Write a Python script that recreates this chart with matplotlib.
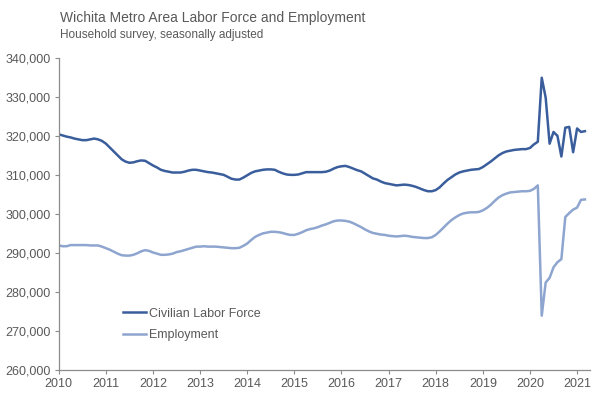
import numpy as np
import matplotlib
matplotlib.use("Agg")
import matplotlib.pyplot as plt
from matplotlib.ticker import FuncFormatter

plt.rcParams['font.family'] = ['Liberation Sans', 'DejaVu Sans']

# monthly values, Jan 2010 - Mar 2021 (thousands)
labor_force = [
    320.4, 320.1, 319.8, 319.6, 319.3, 319.1, 318.9, 318.9, 319.1, 319.3, 319.1, 318.7,  # 2010
    318.0, 317.0, 316.0, 315.0, 314.0, 313.4, 313.1, 313.2, 313.5, 313.7, 313.6, 313.0,  # 2011
    312.4, 311.9, 311.3, 311.0, 310.8, 310.6, 310.6, 310.6, 310.8, 311.1, 311.3, 311.3,  # 2012
    311.1, 310.9, 310.7, 310.6, 310.4, 310.2, 310.0, 309.5, 309.0, 308.8, 308.8, 309.3,  # 2013
    309.9, 310.5, 310.9, 311.1, 311.3, 311.4, 311.4, 311.3, 310.8, 310.4, 310.1, 310.0,  # 2014
    310.0, 310.1, 310.4, 310.7, 310.7, 310.7, 310.7, 310.7, 310.8, 311.1, 311.6, 312.0,  # 2015
    312.2, 312.3, 312.0, 311.6, 311.2, 310.9, 310.3, 309.7, 309.1, 308.8, 308.3, 307.9,  # 2016
    307.7, 307.5, 307.3, 307.4, 307.5, 307.4, 307.2, 306.9, 306.5, 306.1, 305.8, 305.8,  # 2017
    306.1, 306.8, 307.8, 308.7, 309.4, 310.1, 310.6, 310.9, 311.1, 311.3, 311.4, 311.5,  # 2018
    312.0, 312.7, 313.4, 314.2, 315.0, 315.6, 316.0, 316.2, 316.4, 316.5, 316.6, 316.6,  # 2019
    316.9, 317.8, 318.5, 334.9, 329.8, 318.0, 321.0, 320.0, 314.7, 322.1, 322.3, 315.8,  # 2020
    321.9, 321.0, 321.2,  # 2021
]

employment = [
    291.9, 291.7, 291.7, 292.0, 292.0, 292.0, 292.0, 292.0, 291.9, 291.9, 291.9, 291.6,  # 2010
    291.2, 290.8, 290.3, 289.8, 289.4, 289.3, 289.3, 289.5, 289.9, 290.4, 290.7, 290.5,  # 2011
    290.1, 289.8, 289.5, 289.5, 289.6, 289.8, 290.2, 290.4, 290.7, 291.0, 291.3, 291.6,  # 2012
    291.6, 291.7, 291.6, 291.6, 291.6, 291.5, 291.4, 291.3, 291.2, 291.2, 291.3, 291.8,  # 2013
    292.4, 293.3, 294.1, 294.6, 295.0, 295.2, 295.4, 295.4, 295.3, 295.1, 294.8, 294.6,  # 2014
    294.6, 294.9, 295.3, 295.8, 296.1, 296.3, 296.6, 297.0, 297.3, 297.7, 298.1, 298.3,  # 2015
    298.3, 298.2, 298.0, 297.6, 297.1, 296.6, 296.0, 295.5, 295.1, 294.9, 294.7, 294.6,  # 2016
    294.4, 294.3, 294.2, 294.3, 294.4, 294.3, 294.1, 294.0, 293.9, 293.8, 293.8, 294.0,  # 2017
    294.6, 295.5, 296.5, 297.5, 298.4, 299.1, 299.7, 300.1, 300.3, 300.4, 300.4, 300.5,  # 2018
    300.9, 301.5, 302.3, 303.3, 304.2, 304.8, 305.2, 305.5, 305.6, 305.7, 305.8, 305.8,  # 2019
    305.9, 306.4, 307.3, 273.9, 282.4, 283.6, 286.3, 287.6, 288.4, 299.2, 300.2, 301.1,  # 2020
    301.6, 303.6, 303.7,  # 2021
]

years = list(range(2010, 2022))

# decimal year for each month
t = 2010 + np.arange(len(labor_force)) / 12.0
lf = np.array(labor_force) * 1000
emp = np.array(employment) * 1000

text_color = '#595959'
axis_color = '#8c8c8c'

fig = plt.figure(figsize=(6, 3.99), dpi=100)
ax = fig.add_axes([0.098, 0.073, 0.885, 0.782])

ax.plot(t, lf, color='#3a5d9c', lw=1.8, label='Civilian Labor Force')
ax.plot(t, emp, color='#8ea5cf', lw=1.8, label='Employment')

ax.set_xlim(2010, 2021.27)
ax.set_ylim(260000, 340000)
ax.set_xticks(years)
ax.set_yticks(np.arange(260000, 340001, 10000))
ax.yaxis.set_major_formatter(FuncFormatter(lambda v, p: f'{int(v):,}'))

for s in ['top', 'right']:
    ax.spines[s].set_visible(False)
for s in ['left', 'bottom']:
    ax.spines[s].set_color(axis_color)
    ax.spines[s].set_linewidth(0.9)
ax.tick_params(axis='both', colors=axis_color, labelcolor=text_color, labelsize=9, length=3, width=0.8)
ax.tick_params(axis='y', pad=3)
ax.tick_params(axis='x', pad=3)

leg = ax.legend(loc='upper left', bbox_to_anchor=(0.112, 0.215), frameon=False, fontsize=9,
                handlelength=1.8, handletextpad=0.25, labelspacing=0.75, borderaxespad=0)
for txt in leg.get_texts():
    txt.set_color(text_color)

fig.text(0.1, 0.956, 'Wichita Metro Area Labor Force and Employment', fontsize=10, color=text_color,
         va='center', ha='left')
fig.text(0.1, 0.912, 'Household survey, seasonally adjusted', fontsize=8.5, color=text_color,
         va='center', ha='left')

fig.savefig('out.png', dpi=100)
